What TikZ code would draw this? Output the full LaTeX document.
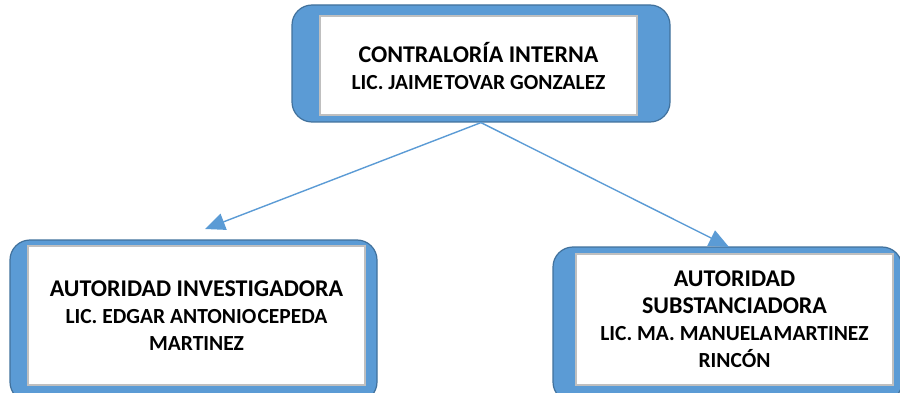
\documentclass[tikz,border=0pt]{standalone}
\usepackage{fontspec}
\setmainfont{Carlito}
\usepackage{xcolor}
\usetikzlibrary{positioning,arrows.meta}
\definecolor{plaqueblue}{HTML}{5B9BD5}
\definecolor{plaqueedge}{HTML}{41719C}
\definecolor{innergray}{HTML}{BFBFBF}
\newcommand{\tsp}{\hspace{0.06em}}
\newcommand{\namesize}{\fontsize{21.5}{27}\selectfont}

\begin{document}
\begin{tikzpicture}[x=1pt,y=-1pt,
    plaque/.style={draw=plaqueedge, fill=plaqueblue, line width=1.2pt, rounded corners=20pt, inner sep=0pt},
    card/.style={draw=innergray, fill=white, line width=2pt, inner sep=0pt, align=center,
        font=\fontsize{24}{27}\selectfont\bfseries},
    link/.style={draw=plaqueblue, line width=1.4pt, -{Triangle[length=20pt,width=17pt]}}]
    \clip (0,0) rectangle (900,393);
    % Contraloria
    \node (ctrlback) [plaque, minimum width=378pt, minimum height=117pt] at (481,63.5) {};
    \node (ctrl) [card, minimum width=317pt, minimum height=99pt] at (478.5,65.5)
        {CONTRALORÍA INTERNA\\{\namesize LIC. JAIME\tsp TOVAR GONZALEZ}};
    % Investigadora
    \node (invback) [plaque, minimum width=367pt, minimum height=162pt] at (193.5,321) {};
    \node (inv) [card, minimum width=337pt, minimum height=139pt] at (196.5,315.5)
        {AUTORIDAD INVESTIGADORA\\{\namesize LIC. EDGAR ANTONIO\tsp CEPEDA}\\{\namesize MARTINEZ}};
    % Substanciadora
    \node (subback) [plaque, minimum width=349pt, minimum height=155pt] at (727.5,324.5) {};
    \node (sub) [card, minimum width=317pt, minimum height=131pt] at (734.5,319.5)
        {AUTORIDAD\\SUBSTANCIADORA\\{\namesize LIC. MA. MANUELA\tsp MARTINEZ}\\{\namesize RINCÓN}};
    % Arrows
    \coordinate (invtip) at (205,229);
    \coordinate (subtip) at (729,247);
    \draw [link] (ctrlback.south) -- (invtip);
    \draw [link] (ctrlback.south) -- (subtip);
\end{tikzpicture}
\end{document}
